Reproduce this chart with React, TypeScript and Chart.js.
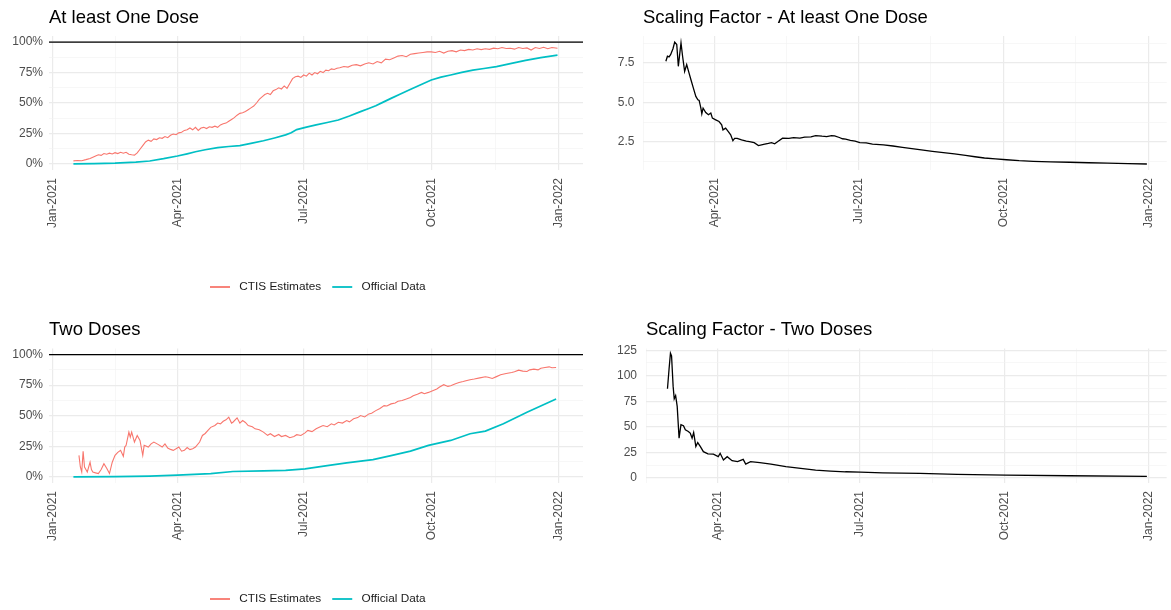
import React, { useEffect, useRef } from "react";
import { Chart, registerables } from "chart.js";

Chart.register(...registerables);

// ---------- axis ticks ----------
const dateTickDays = [0, 90, 181, 273, 365];
const dateTickLabels = ["Jan-2021", "Apr-2021", "Jul-2021", "Oct-2021", "Jan-2022"];
const dateMinorDays = [45, 135.5, 227, 319];

const pctTicks = [0, 25, 50, 75, 100];
const pctMinor = [12.5, 37.5, 62.5, 87.5];
const sfOneTicks = [2.5, 5, 7.5];
const sfOneMinor = [1.25, 3.75, 6.25, 8.75];
const sfTwoTicks = [0, 25, 50, 75, 100, 125];
const sfTwoMinor = [12.5, 37.5, 62.5, 87.5, 112.5];
const referenceLevel = 100;

const seriesNames = ["CTIS Estimates", "Official Data"];

// ---------- At least one dose (days since 1 Jan 2021, %) ----------
const ctisOneDays = [15, 18, 21, 24, 27, 29, 31, 33, 35, 37, 39, 41, 43, 45, 47, 49, 51, 53, 55, 57, 59, 61, 63, 65, 67, 69, 71, 73, 75, 77, 79, 81, 83, 85, 87, 89, 91, 93, 95, 97, 99, 101, 103, 105, 107, 109, 111, 113, 115, 117, 119, 121, 123, 125, 127, 129, 131, 133, 135, 137, 139, 141, 143, 145, 147, 149, 151, 153, 155, 157, 159, 161, 163, 165, 167, 169, 171, 173, 175, 177, 179, 181, 183, 185, 187, 189, 191, 193, 195, 197, 199, 201, 203, 205, 207, 210, 213, 216, 219, 222, 225, 228, 231, 234, 237, 240, 243, 246, 249, 252, 255, 258, 261, 264, 267, 270, 273, 276, 279, 282, 285, 288, 291, 294, 297, 300, 303, 306, 309, 312, 315, 318, 321, 324, 327, 330, 333, 336, 339, 342, 345, 348, 351, 354, 357, 360, 364];
const ctisOneVals = [2.5, 2.8, 2.6, 3.5, 4.5, 5.5, 6.5, 7.5, 7, 8.5, 8, 8.8, 8.2, 9.2, 8.5, 9.5, 8.8, 9.5, 8, 7.5, 7.2, 9, 12, 15, 18, 19.5, 18.5, 20.5, 20, 21.5, 21, 22.5, 21.5, 23.5, 24.5, 24, 25.5, 26, 27.5, 28, 29.5, 28, 30, 27.5, 29.5, 30, 29, 30.5, 30, 31, 30, 32, 33, 33.5, 35, 36.5, 38, 40, 41.5, 42, 43, 44.5, 46, 47.5, 50, 53, 55, 57, 58, 57, 60, 61, 62.5, 61.5, 64, 62, 66, 70, 71.5, 72, 71, 73, 72, 74.5, 73, 75, 74, 76, 75, 77, 76.5, 78, 77.5, 78.5, 79, 80, 79.5, 81, 81.5, 80.5, 82, 83, 82, 84, 83, 86, 85.5, 87, 88.5, 89, 88, 90, 90.5, 91, 91.5, 92, 92, 91.5, 92.5, 91, 92.5, 93, 92, 93.5, 93, 94, 93.5, 94.5, 93.8, 94.5, 94, 95, 94.5, 95.5, 94.8, 95, 94.2, 95.5, 94.8, 95.2, 93.5, 95.5, 94.8, 95.8, 94.5, 95.5, 95];

const officialOneDays = [15, 30, 45, 60, 70, 80, 90, 97, 103, 110, 119, 127, 135, 143, 152, 160, 168, 172, 176, 183, 190, 198, 206, 214, 222, 228, 233, 238, 244, 250, 257, 265, 273, 280, 287, 295, 303, 311, 320, 330, 341, 352, 364];
const officialOneVals = [0, 0.2, 0.6, 1.4, 2.4, 4.3, 6.5, 8.3, 10, 11.6, 13.4, 14.3, 15, 16.8, 19, 21.3, 23.8, 25.5, 28.2, 30.2, 32, 34, 36, 39.3, 42.9, 45.5, 47.8, 50.5, 53.8, 57, 60.6, 64.8, 68.9, 71.2, 73, 75.2, 77, 78.3, 79.8, 82.3, 85, 87.3, 89.3];

const scaleOneDays = [59, 60, 61, 62, 63.5, 64.6, 65.9, 66.9, 68.6, 69.6, 70.9, 72.2, 73.4, 74.9, 76.4, 78, 79.3, 80.1, 81.2, 81.8, 82.6, 84.3, 86, 87.5, 88.5, 90.6, 92.7, 94.4, 95.2, 96.9, 98.6, 100.1, 101.5, 102.6, 104.2, 107, 110, 112, 115, 117.7, 121, 124, 126, 128, 130, 133, 137, 140, 144, 147, 151, 154, 158, 161, 164, 166, 169, 171, 173, 176, 179, 182, 186, 190, 197, 203, 209, 215, 221, 228, 235, 242, 249, 255, 261, 268, 275, 283, 292, 303, 315, 327, 339, 352, 364];
const scaleOneVals = [7.61, 7.93, 7.89, 8.03, 8.4, 8.82, 8.67, 7.29, 8.78, 7.93, 6.97, 7.4, 6.97, 6.44, 5.92, 5.38, 5.17, 5.13, 4.64, 4.28, 4.64, 4.36, 4.22, 4.33, 4.01, 3.9, 3.79, 3.58, 3.26, 3.37, 3.15, 2.95, 2.58, 2.73, 2.73, 2.63, 2.55, 2.52, 2.45, 2.27, 2.35, 2.4, 2.45, 2.38, 2.52, 2.73, 2.72, 2.77, 2.74, 2.8, 2.82, 2.9, 2.86, 2.84, 2.9, 2.88, 2.78, 2.7, 2.67, 2.6, 2.55, 2.46, 2.44, 2.36, 2.31, 2.24, 2.16, 2.08, 1.99, 1.9, 1.82, 1.74, 1.65, 1.56, 1.48, 1.42, 1.37, 1.31, 1.27, 1.24, 1.21, 1.18, 1.16, 1.13, 1.1];

// ---------- Two doses ----------
const ctisTwoDays = [19, 20, 21, 22, 23, 24, 25, 27, 28, 29, 31, 33, 35, 37, 39, 41, 43, 45, 47, 49, 51, 52, 53, 55, 56, 57, 59, 61, 63, 65, 66, 69, 71, 73, 76, 79, 81, 83, 85, 87, 89, 91, 93, 95, 97, 99, 101, 103, 106, 108, 110, 112, 114, 117, 119, 121, 123, 125, 127, 129, 130, 133, 135, 137, 139, 141, 144, 146, 149, 152, 155, 157, 160, 163, 165, 168, 171, 174, 176, 179, 182, 184, 187, 190, 193, 195, 198, 201, 203, 206, 209, 212, 214, 217, 220, 222, 225, 228, 230, 233, 236, 239, 241, 244, 247, 249, 252, 255, 258, 260, 263, 266, 268, 271, 274, 277, 279, 282, 285, 287, 290, 293, 296, 298, 301, 304, 308, 312, 314, 317, 320, 323, 327, 331, 333, 336, 339, 342, 344, 347, 350, 352, 355, 358, 360, 363];
const ctisTwoVals = [17.6, 8.1, 4, 21, 8, 6, 4, 12, 6, 4, 3.3, 2.7, 6, 10.8, 7, 2.7, 12, 17.6, 20, 21.7, 16.8, 24.4, 25.8, 36.6, 32.5, 36.6, 28.5, 33.9, 29.8, 17.6, 25.8, 24.4, 27, 28.5, 26.6, 24.4, 27, 23.6, 22.5, 21.7, 23, 24.4, 21, 21.7, 24, 22.3, 23, 24.4, 28.5, 33.9, 35.5, 38, 40.5, 42, 44, 43.4, 45.5, 46.7, 48.8, 44, 44.7, 48.3, 44, 46.1, 44.5, 42, 41, 39.3, 38.5, 36.6, 34, 35.3, 33, 34.7, 33, 33.9, 32, 33.1, 34.5, 33.9, 36, 38, 37, 39.3, 41, 42, 41, 43.4, 42.5, 44.7, 44, 46.1, 45, 47.5, 48.5, 50.2, 49, 51.5, 52, 54.2, 56, 58.3, 58, 59.7, 60.5, 61.8, 62.5, 63.7, 65, 66.4, 67.5, 69.1, 68, 69.1, 70.5, 71.9, 73.5, 75.4, 74, 74.6, 76, 77.2, 78, 78.6, 79.5, 80, 81, 81.9, 81.5, 80.5, 82, 83.5, 84.5, 85.4, 86, 87.3, 86.5, 86.2, 87.5, 88.1, 87.5, 88.9, 89.5, 90, 89.3, 89.4];

const officialTwoDays = [15, 45, 70, 90, 106, 114, 130, 152, 168, 182, 198, 212, 231, 244, 258, 271, 287, 301, 312, 325, 342, 363];
const officialTwoVals = [0, 0.2, 0.7, 1.4, 2.2, 2.7, 4.4, 4.9, 5.4, 6.5, 9.2, 11.4, 14.1, 17.4, 21.1, 25.8, 29.8, 35.3, 37.4, 43.4, 52.8, 63.7];

const scaleTwoDays = [58.2, 59.2, 60.1, 60.8, 61.8, 62.5, 63.4, 64.4, 65.6, 66.8, 68.4, 69.6, 71.5, 72.7, 73.9, 74.9, 76.3, 77.5, 79.2, 81.1, 84, 87.5, 90.6, 91.8, 93.9, 96.3, 99.4, 102.9, 106.5, 108.1, 111.2, 117.1, 124.2, 133.7, 143.2, 152.7, 162.2, 171.7, 181.2, 195.5, 219.3, 243, 274, 314.5, 364];
const scaleTwoVals = [87.2, 106.3, 122, 119.4, 89.8, 77.3, 80.6, 70, 38.9, 52, 51, 47, 45.4, 43.8, 38.9, 44.4, 30.6, 34.5, 30.6, 25.6, 23.4, 23.1, 20.7, 24, 17.5, 20.7, 16.8, 15.8, 18.1, 13.5, 15.8, 14.8, 13.5, 10.9, 9.3, 7.6, 6.6, 5.9, 5.6, 4.9, 4.3, 3.4, 2.7, 2.0, 1.4];

// ---------- styling ----------
const FONT = '"Liberation Sans", Arial, Helvetica, sans-serif';
const CTIS_COLOR = "#F8766D";
const OFFICIAL_COLOR = "#00BFC4";
const GRID_MAJOR = "#EBEBEB";
const GRID_MINOR = "#F2F2F2";
const AXIS_TEXT = "#4D4D4D";

const toPoints = (xs: number[], ys: number[]) => xs.map((x, i) => ({ x, y: ys[i] }));
const near = (arr: number[], v: number) => arr.some((a) => Math.abs(a - v) < 1e-6);

const ggLegend = {
  id: "ggLegend",
  afterDraw(chart: any, _args: any, opts: any) {
    if (!opts || !opts.show) return;
    const ctx = chart.ctx;
    ctx.save();
    ctx.font = `11.8px ${FONT}`;
    ctx.textBaseline = "middle";
    ctx.textAlign = "left";
    let x = opts.x;
    const y = opts.y;
    chart.data.datasets
      .filter((d: any) => d.inLegend)
      .forEach((d: any) => {
        ctx.strokeStyle = d.borderColor;
        ctx.lineWidth = 1.8;
        ctx.beginPath();
        ctx.moveTo(x, y);
        ctx.lineTo(x + 20, y);
        ctx.stroke();
        x += 29.3;
        ctx.fillStyle = "#1a1a1a";
        ctx.fillText(d.label, x, y);
        x += ctx.measureText(d.label).width + 11;
      });
    ctx.restore();
  },
};

type Spec = {
  left: number; top: number; width: number; height: number;
  title: string; titlePad: { top: number; bottom: number };
  yWidth: number; yPad: number; xHeight: number; padRight: number; padBottom: number;
  xMin: number; xMax: number; yMin: number; yMax: number;
  yMajor: number[]; yMinor: number[]; yFmt: (v: number) => string;
  datasets: any[]; legend?: { x: number; y: number };
};

function Panel({ spec }: { spec: Spec }) {
  const ref = useRef<HTMLCanvasElement>(null);
  useEffect(() => {
    const canvas = ref.current;
    if (!canvas) return;
    const xTicks = [...dateTickDays, ...dateMinorDays]
      .filter((v) => v >= spec.xMin && v <= spec.xMax)
      .sort((a, b) => a - b);
    const yTicks = [...spec.yMajor, ...spec.yMinor]
      .filter((v) => v >= spec.yMin && v <= spec.yMax)
      .sort((a, b) => a - b);
    const chart = new Chart(canvas, {
      type: "line",
      data: { datasets: spec.datasets },
      options: {
        responsive: false,
        maintainAspectRatio: false,
        devicePixelRatio: 1,
        animation: false,
        events: [],
        layout: {
          autoPadding: false,
          padding: { left: 0, right: spec.padRight, top: 0, bottom: spec.padBottom },
        },
        elements: { point: { radius: 0 }, line: { tension: 0 } },
        scales: {
          x: {
            type: "linear",
            min: spec.xMin,
            max: spec.xMax,
            afterBuildTicks: (s: any) => {
              s.ticks = xTicks.map((v) => ({ value: v }));
            },
            afterFit: (s: any) => {
              s.height = spec.xHeight;
            },
            ticks: {
              autoSkip: false,
              minRotation: 90,
              maxRotation: 90,
              padding: 8,
              color: AXIS_TEXT,
              font: { family: FONT, size: 12 },
              callback: (v: any) => {
                const i = dateTickDays.findIndex((d) => Math.abs(d - v) < 1e-6);
                return i >= 0 ? dateTickLabels[i] : "";
              },
            },
            grid: {
              drawTicks: false,
              color: (c: any) => (near(dateTickDays, c.tick?.value) ? GRID_MAJOR : GRID_MINOR),
              lineWidth: (c: any) => (near(dateTickDays, c.tick?.value) ? 1.2 : 0.6),
            },
            border: { display: false },
          },
          y: {
            type: "linear",
            min: spec.yMin,
            max: spec.yMax,
            afterBuildTicks: (s: any) => {
              s.ticks = yTicks.map((v) => ({ value: v }));
            },
            afterFit: (s: any) => {
              s.width = spec.yWidth;
            },
            ticks: {
              autoSkip: false,
              padding: spec.yPad,
              color: AXIS_TEXT,
              font: { family: FONT, size: 12 },
              callback: (v: any) => (near(spec.yMajor, v) ? spec.yFmt(v) : ""),
            },
            grid: {
              drawTicks: false,
              color: (c: any) => (near(spec.yMajor, c.tick?.value) ? GRID_MAJOR : GRID_MINOR),
              lineWidth: (c: any) => (near(spec.yMajor, c.tick?.value) ? 1.2 : 0.6),
            },
            border: { display: false },
          },
        },
        plugins: {
          legend: { display: false },
          tooltip: { enabled: false },
          title: {
            display: true,
            text: spec.title,
            align: "start",
            fullSize: false,
            color: "#000",
            font: { family: FONT, size: 18.5, weight: "normal" },
            padding: spec.titlePad,
          },
          ggLegend: spec.legend ? { show: true, x: spec.legend.x, y: spec.legend.y } : { show: false },
        } as any,
      } as any,
      plugins: [ggLegend],
    });
    return () => chart.destroy();
  }, [spec]);
  return (
    <canvas
      ref={ref}
      width={spec.width}
      height={spec.height}
      style={{ position: "absolute", left: spec.left, top: spec.top, width: spec.width, height: spec.height }}
    />
  );
}

const pctFmt = (v: number) => `${v}%`;

function refLine(xMin: number, xMax: number) {
  return {
    label: "ref",
    data: [{ x: xMin, y: referenceLevel }, { x: xMax, y: referenceLevel }],
    borderColor: "#000",
    borderWidth: 1.4,
    pointRadius: 0,
    inLegend: false,
  };
}

const specs: Spec[] = [
  {
    left: 0, top: 0, width: 585, height: 305,
    title: "At least One Dose", titlePad: { top: 6.9, bottom: 6.9 },
    yWidth: 49, yPad: 6, xHeight: 70, padRight: 2, padBottom: 65,
    xMin: -2.6, xMax: 382.4, yMin: -5, yMax: 105,
    yMajor: pctTicks, yMinor: pctMinor, yFmt: pctFmt,
    legend: { x: 210, y: 287 },
    datasets: [
      refLine(-2.6, 382.4),
      { label: seriesNames[0], data: toPoints(ctisOneDays, ctisOneVals), borderColor: CTIS_COLOR, borderWidth: 1.1, pointRadius: 0, inLegend: true },
      { label: seriesNames[1], data: toPoints(officialOneDays, officialOneVals), borderColor: OFFICIAL_COLOR, borderWidth: 1.7, pointRadius: 0, inLegend: true },
    ],
  },
  {
    left: 585, top: 0, width: 586, height: 305,
    title: "Scaling Factor - At least One Dose", titlePad: { top: 6.9, bottom: 6.9 },
    yWidth: 58, yPad: 8.5, xHeight: 70, padRight: 0, padBottom: 65,
    xMin: 44.5, xMax: 376.6, yMin: 0.72, yMax: 9.21,
    yMajor: sfOneTicks, yMinor: sfOneMinor, yFmt: (v) => v.toFixed(1),
    datasets: [
      { label: "Scaling factor", data: toPoints(scaleOneDays, scaleOneVals), borderColor: "#000", borderWidth: 1.3, pointRadius: 0 },
    ],
  },
  {
    left: 0, top: 305, width: 585, height: 305,
    title: "Two Doses", titlePad: { top: 13.9, bottom: 7.4 },
    yWidth: 49, yPad: 6, xHeight: 70, padRight: 2, padBottom: 57,
    xMin: -2.6, xMax: 382.4, yMin: -5, yMax: 105,
    yMajor: pctTicks, yMinor: pctMinor, yFmt: pctFmt,
    legend: { x: 210, y: 294 },
    datasets: [
      refLine(-2.6, 382.4),
      { label: seriesNames[0], data: toPoints(ctisTwoDays, ctisTwoVals), borderColor: CTIS_COLOR, borderWidth: 1.1, pointRadius: 0, inLegend: true },
      { label: seriesNames[1], data: toPoints(officialTwoDays, officialTwoVals), borderColor: OFFICIAL_COLOR, borderWidth: 1.7, pointRadius: 0, inLegend: true },
    ],
  },
  {
    left: 585, top: 305, width: 586, height: 305,
    title: "Scaling Factor - Two Doses", titlePad: { top: 13.9, bottom: 7.4 },
    yWidth: 61, yPad: 9, xHeight: 70, padRight: 0, padBottom: 57,
    xMin: 44.5, xMax: 376.6, yMin: -5.1, yMax: 126.7,
    yMajor: sfTwoTicks, yMinor: sfTwoMinor, yFmt: (v) => String(v),
    datasets: [
      { label: "Scaling factor", data: toPoints(scaleTwoDays, scaleTwoVals), borderColor: "#000", borderWidth: 1.3, pointRadius: 0 },
    ],
  },
];

export default function App() {
  return (
    <div style={{ position: "absolute", left: 0, top: 0, width: 1171, height: 610, background: "#fff", overflow: "hidden" }}>
      {specs.map((s, i) => (
        <Panel key={i} spec={s} />
      ))}
    </div>
  );
}
